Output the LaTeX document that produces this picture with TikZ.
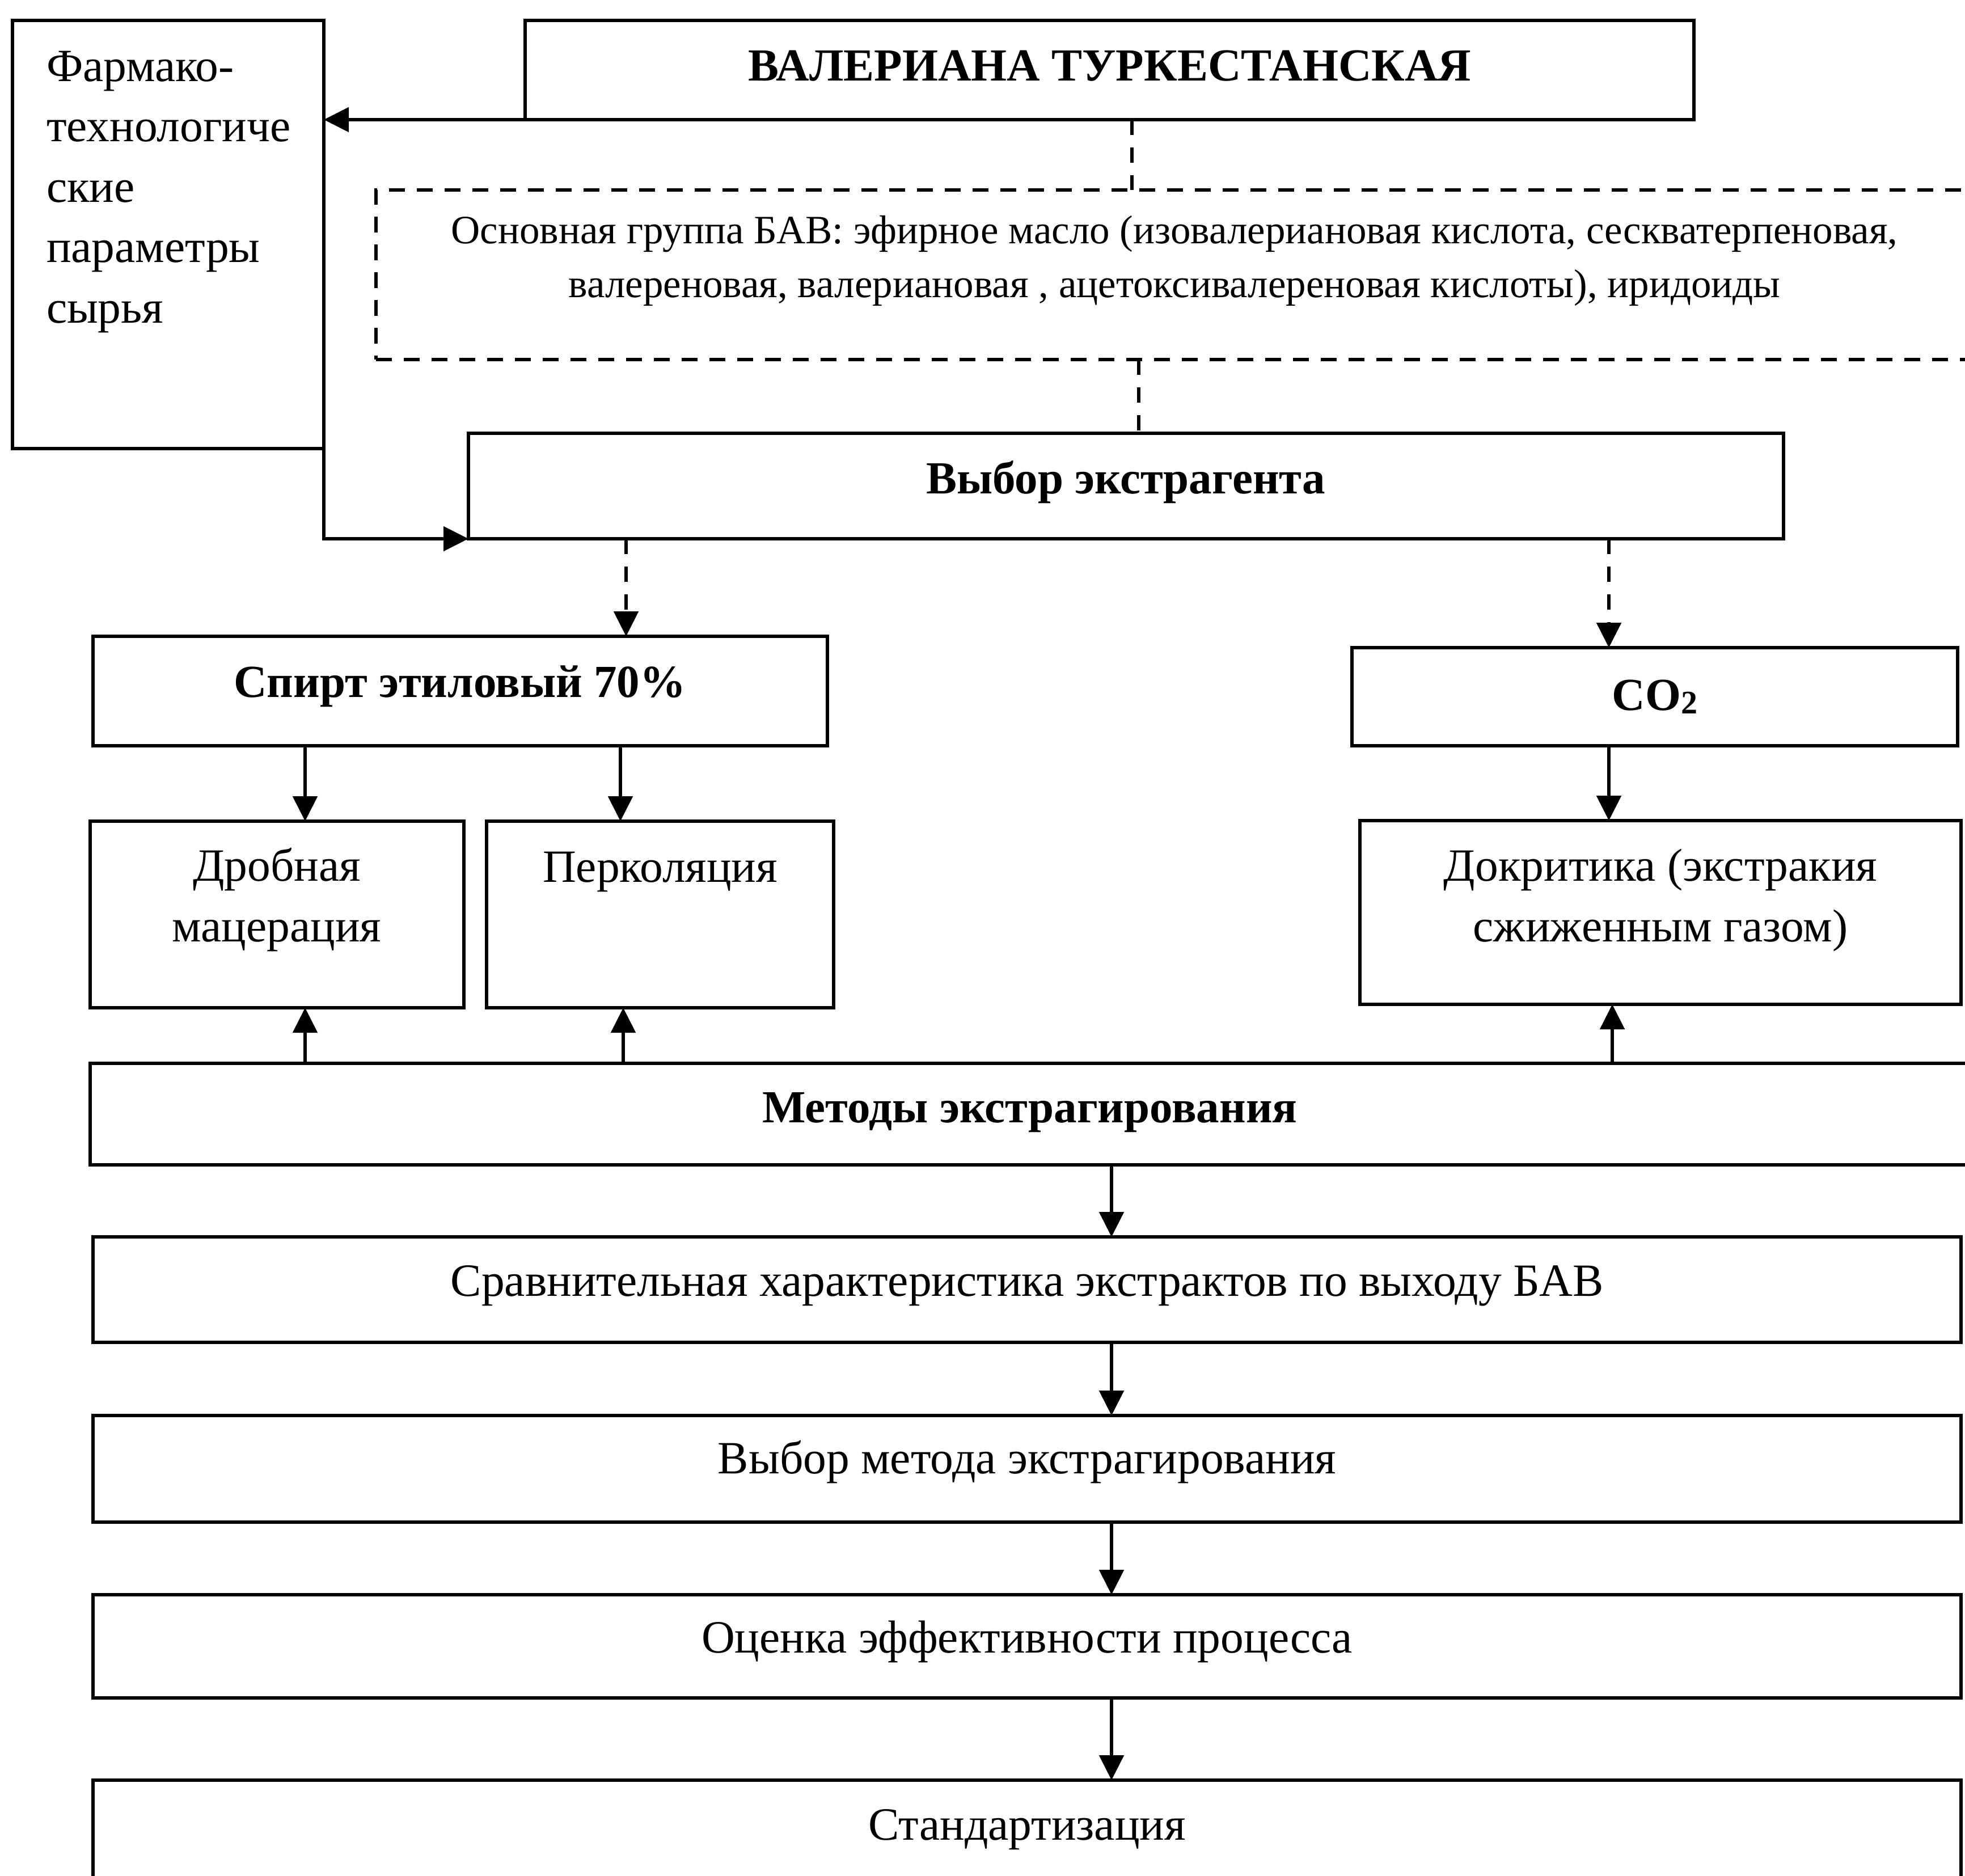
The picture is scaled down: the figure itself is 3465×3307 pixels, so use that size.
\documentclass[tikz,border=0pt]{standalone}
\usepackage{fontspec}
\setmainfont{Liberation Serif}
\usetikzlibrary{arrows.meta,fit}

\begin{document}
\begin{tikzpicture}[x=1pt,y=-1pt,
  box/.style={draw, line width=6.5pt, rectangle, inner sep=0pt, outer sep=0pt},
  dbox/.style={box, line width=6.5pt, dash pattern=on 28pt off 21pt},
  lbl/.style={inner sep=0pt, outer sep=0pt, anchor=base, font=\fontsize{81.5}{106.5}\selectfont},
  ttl/.style={lbl, font=\fontsize{81}{106}\selectfont\bfseries},
  sml/.style={lbl, font=\fontsize{71}{95}\selectfont},
  arr/.style={line width=5.5pt, -{Triangle[length=44pt,width=43pt]}},
  darr/.style={arr, dash pattern=on 27pt off 22pt},
  dline/.style={line width=5.5pt, dash pattern=on 27pt off 22pt}]

% page frame
\useasboundingbox (0,0) rectangle (3465,3307);
\fill[white] (0,0) rectangle (3465,3307);
\clip (0,0) rectangle (3465,3307);

% boxes
\node[box, fit={(22,36) (571,791)}] (pharm) {};
\node[box, fit={(926,36) (2987,211)}] (top) {};
\node[dbox, fit={(663,335) (3479,634)}] (bav) {};
\node[box, fit={(826,764) (3145,950)}] (vybor) {};
\node[box, fit={(164,1122) (1459,1315)}] (spirt) {};
\node[box, fit={(2384,1142) (3452,1315)}] (co2) {};
\node[box, fit={(159,1448) (818,1777)}] (drob) {};
\node[box, fit={(858,1448) (1470,1777)}] (perk) {};
\node[box, fit={(2398,1447) (3458,1771)}] (dokr) {};
\node[box, fit={(159,1875) (3473,2054)}] (metody) {};
\node[box, fit={(164,2181) (3458,2367)}] (srav) {};
\node[box, fit={(164,2496) (3458,2684)}] (vybm) {};
\node[box, fit={(164,2812) (3458,2994)}] (ocen) {};
\node[box, fit={(164,3139) (3458,3420)}] (stand) {};

% texts (multi-line nodes are placed by the baseline of their last line)
\node[lbl, anchor=base west, align=left] (t-pharm) at (82,569)
  {Фармако-\\технологиче\\ские\\параметры\\сырья};
\node[ttl] (t-top) at (1957,142) {ВАЛЕРИАНА ТУРКЕСТАНСКАЯ};
\node[sml, align=center] (t-bav) at (2071,524)
  {Основная группа БАВ: эфирное масло (изовалериановая кислота, сескватерпеновая,\\
   валереновая, валериановая , ацетоксивалереновая кислоты), иридоиды};
\node[ttl] (t-vybor) at (1985,870) {Выбор экстрагента};
\node[ttl] (t-spirt) at (811,1229) {Спирт этиловый 70\%};
\node[ttl] (t-co2) at (2918,1252)
  {CO\raisebox{-6pt}{\fontsize{58}{58}\selectfont 2}};
\node[lbl, align=center] (t-drob) at (488,1660) {Дробная\\мацерация};
\node[lbl] (t-perk) at (1164,1555) {Перколяция};
\node[lbl, align=center] (t-dokr) at (2928,1660) {Докритика (экстракия\\сжиженным газом)};
\node[ttl] (t-metody) at (1816,1979) {Методы экстрагирования};
\node[lbl] (t-srav) at (1811,2285) {Сравнительная характеристика экстрактов по выходу БАВ};
\node[lbl] (t-vybm) at (1811,2598) {Выбор метода экстрагирования};
\node[lbl] (t-ocen) at (1811,2914) {Оценка эффективности процесса};
\node[lbl] (t-stand) at (1811,3244) {Стандартизация};

% connector columns
\coordinate (xa) at (538,0);
\coordinate (xb) at (1094,0);
\coordinate (xc) at (1099,0);
\coordinate (xd) at (1104,0);
\coordinate (xe) at (2837,0);
\coordinate (xf) at (2843,0);
\coordinate (xg) at (1960,0);
\coordinate (xh) at (1996,0);
\coordinate (xi) at (2008,0);

% connectors
\draw[arr] (top.south west) -- (top.south west -| pharm.east);
\draw[dline] (top.south -| xh) -- (bav.north -| xh);
\draw[dline] (bav.south -| xi) -- (vybor.north -| xi);
\draw[arr] (pharm.south east) |- (vybor.south west);
\draw[darr] (vybor.south -| xd) -- (spirt.north -| xd);
\draw[darr] (vybor.south -| xe) -- (co2.north -| xe);
\draw[arr] (spirt.south -| xa) -- (drob.north -| xa);
\draw[arr] (spirt.south -| xb) -- (perk.north -| xb);
\draw[arr] (co2.south -| xe) -- (dokr.north -| xe);
\draw[arr] (metody.north -| xa) -- (drob.south -| xa);
\draw[arr] (metody.north -| xc) -- (perk.south -| xc);
\draw[arr] (metody.north -| xf) -- (dokr.south -| xf);
\draw[arr] (metody.south -| xg) -- (srav.north -| xg);
\draw[arr] (srav.south -| xg) -- (vybm.north -| xg);
\draw[arr] (vybm.south -| xg) -- (ocen.north -| xg);
\draw[arr] (ocen.south -| xg) -- (stand.north -| xg);
\end{tikzpicture}
\end{document}
